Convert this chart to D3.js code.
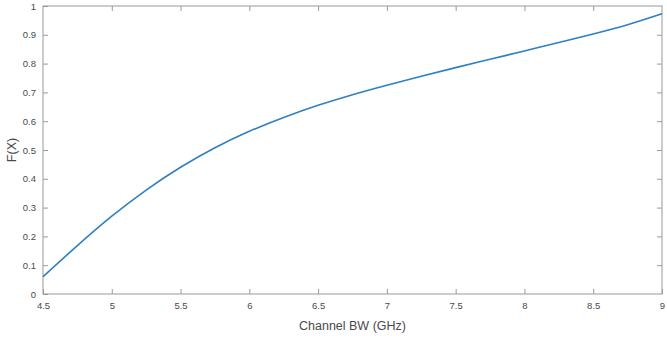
<!DOCTYPE html>
<html>
<head>
<meta charset="utf-8">
<script src="https://cdn.jsdelivr.net/npm/d3@7"></script>
<style>
  body { margin: 0; background: #fff; }
  svg { display: block; font-family: "Liberation Sans", Arial, sans-serif; }
</style>
</head>
<body>
<div id="chart"></div>
<script>
// channel bandwidth (GHz) and F(X)
const bw = [4.5, 4.75, 5, 5.25, 5.5, 5.75, 6, 6.25, 6.5, 6.75, 7, 7.25, 7.5, 7.75, 8, 8.25, 8.5, 8.75, 9];
const fx = [0.06, 0.168, 0.27, 0.361, 0.44, 0.508, 0.565, 0.613, 0.655, 0.692, 0.725, 0.756, 0.786, 0.815, 0.844, 0.873, 0.903, 0.935, 0.973];
const xTicks = [4.5, 5, 5.5, 6, 6.5, 7, 7.5, 8, 8.5, 9];
const yTicks = [0, 0.1, 0.2, 0.3, 0.4, 0.5, 0.6, 0.7, 0.8, 0.9, 1];

const W = 667, H = 339;
const margin = { top: 6, right: 5, bottom: 45, left: 43 };
const w = W - margin.left - margin.right;
const h = H - margin.top - margin.bottom;

const svg = d3.select('#chart').append('svg')
    .attr('width', W)
    .attr('height', H);
const g = svg.append('g')
    .attr('transform', `translate(${margin.left},${margin.top})`);

const x = d3.scaleLinear().domain([4.5, 9]).range([0, w]);
const y = d3.scaleLinear().domain([0, 1]).range([h, 0]);

const axisColor = '#9a9a9a';
const textColor = '#4a4a4a';

function style(sel) {
    sel.select('.domain').remove();
    sel.selectAll('.tick line').attr('stroke', axisColor);
    sel.selectAll('.tick text').attr('fill', textColor).style('font-size', '9.5px');
}

// bottom + top
g.append('g').attr('transform', `translate(0,${h})`)
    .call(d3.axisBottom(x).tickValues(xTicks).tickSizeInner(-5).tickSizeOuter(0).tickPadding(8).tickFormat(d3.format('')))
    .call(style);
g.append('g')
    .call(d3.axisTop(x).tickValues(xTicks.slice(1, -1)).tickSizeInner(-5).tickSizeOuter(0).tickFormat(''))
    .call(style);
// left + right
g.append('g')
    .call(d3.axisLeft(y).tickValues(yTicks).tickSizeInner(-5).tickSizeOuter(0).tickPadding(7).tickFormat(d3.format('')))
    .call(style);
g.append('g').attr('transform', `translate(${w},0)`)
    .call(d3.axisRight(y).tickValues(yTicks.slice(1, -1)).tickSizeInner(-5).tickSizeOuter(0).tickFormat(''))
    .call(style);

g.append('rect')
    .attr('width', w).attr('height', h)
    .attr('fill', 'none')
    .attr('stroke', axisColor)
    .attr('stroke-width', 1);

const line = d3.line()
    .x((d, i) => x(bw[i]))
    .y(d => y(d))
    .curve(d3.curveNatural);

g.append('path')
    .datum(fx)
    .attr('fill', 'none')
    .attr('stroke', '#2f7fc1')
    .attr('stroke-width', 1.6)
    .attr('d', line);

svg.append('text')
    .attr('x', margin.left + w / 2)
    .attr('y', 330)
    .attr('text-anchor', 'middle')
    .attr('fill', textColor)
    .style('font-size', '12.5px')
    .text('Channel BW (GHz)');

svg.append('text')
    .attr('transform', `translate(16,${margin.top + h / 2}) rotate(-90)`)
    .attr('text-anchor', 'middle')
    .attr('fill', textColor)
    .style('font-size', '12.5px')
    .text('F(X)');
</script>
</body>
</html>
